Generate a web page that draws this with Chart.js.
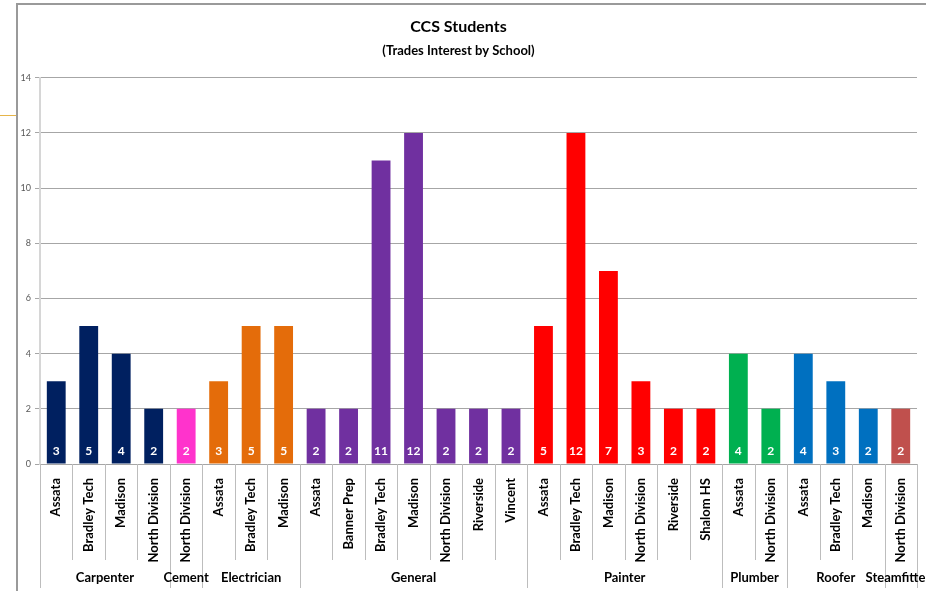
<!DOCTYPE html>
<html>
<head>
<meta charset="utf-8">
<title>CCS Students</title>
<script src="https://cdn.jsdelivr.net/npm/chart.js@4.4.0/dist/chart.umd.min.js"></script>
<style>
    html, body { margin: 0; padding: 0; background: #fff; }
    #wrap { position: relative; width: 926px; height: 591px; overflow: hidden; }
    #frame { position: absolute; left: 16px; top: 3px; right: -4px; bottom: -4px; border-top: 2px solid #9a9a9a; border-left: 2px solid #9a9a9a; pointer-events: none; }
    #mark { position: absolute; left: 0; top: 115px; width: 16px; border-top: 1px solid #e6b54a; }
    canvas { position: absolute; left: 0; top: 0; }
</style>
</head>
<body>
<div id="wrap">
    <canvas id="trades-chart" width="926" height="591"></canvas>
    <div id="frame"></div>
    <div id="mark"></div>
</div>
<script>
// one entry per bar
const trades = [
    "Carpenter", "Carpenter", "Carpenter", "Carpenter",
    "Cement",
    "Electrician", "Electrician", "Electrician",
    "General", "General", "General", "General", "General", "General", "General",
    "Painter", "Painter", "Painter", "Painter", "Painter", "Painter",
    "Plumber", "Plumber",
    "Roofer", "Roofer", "Roofer",
    "Steamfitters"
];
const schools = [
    "Assata", "Bradley Tech", "Madison", "North Division",
    "North Division",
    "Assata", "Bradley Tech", "Madison",
    "Assata", "Banner Prep", "Bradley Tech", "Madison", "North Division", "Riverside", "Vincent",
    "Assata", "Bradley Tech", "Madison", "North Division", "Riverside", "Shalom HS",
    "Assata", "North Division",
    "Assata", "Bradley Tech", "Madison",
    "North Division"
];
const students = [
    3, 5, 4, 2,
    2,
    3, 5, 5,
    2, 2, 11, 12, 2, 2, 2,
    5, 12, 7, 3, 2, 2,
    4, 2,
    4, 3, 2,
    2
];
const yTicks = [0, 2, 4, 6, 8, 10, 12, 14];

const tradeColors = {
    Carpenter: "#002060",
    Cement: "#ff33cc",
    Electrician: "#e46c0a",
    General: "#7030a0",
    Painter: "#ff0000",
    Plumber: "#00b050",
    Roofer: "#0070c0",
    Steamfitters: "#c0504d"
};

const FONT = "Lato, 'Open Sans', sans-serif";

// draws the category dividers, trade names under the schools and the values inside the bars
const tradeAxisPlugin = {
    id: "tradeAxis",
    afterDraw(chart) {
        const ctx = chart.ctx;
        const xScale = chart.scales.x;
        const area = chart.chartArea;
        const step = (area.right - area.left) / schools.length;
        const edge = i => xScale.getPixelForValue(i) - step / 2;

        ctx.save();
        ctx.strokeStyle = "#bdbdbd";
        ctx.lineWidth = 1;
        for (let i = 0; i <= schools.length; i++) {
            const isGroupEdge = i === 0 || i === schools.length || trades[i] !== trades[i - 1];
            const px = Math.round(edge(i)) + 0.5;
            ctx.beginPath();
            ctx.moveTo(px, area.bottom);
            ctx.lineTo(px, isGroupEdge ? area.bottom + 124 : area.bottom + 96);
            ctx.stroke();
        }

        // trade names
        ctx.fillStyle = "#000";
        ctx.font = "bold 13px " + FONT;
        ctx.textAlign = "center";
        ctx.textBaseline = "middle";
        let start = 0;
        for (let i = 1; i <= trades.length; i++) {
            if (i === trades.length || trades[i] !== trades[start]) {
                const mid = (edge(start) + edge(i)) / 2;
                ctx.fillText(trades[start], mid, area.bottom + 114);
                start = i;
            }
        }

        // values at the foot of each bar
        const meta = chart.getDatasetMeta(0);
        ctx.fillStyle = "#fff";
        ctx.font = "bold 12px " + FONT;
        meta.data.forEach((bar, i) => {
            ctx.fillText(String(students[i]), bar.x, area.bottom - 13);
        });
        ctx.restore();
    }
};

const ctx = document.getElementById("trades-chart").getContext("2d");
const chart = new Chart(ctx, {
    type: "bar",
    data: {
        labels: schools,
        datasets: [{
            label: "Students",
            data: students,
            backgroundColor: trades.map(t => tradeColors[t]),
            borderWidth: 0,
            barPercentage: 0.58,
            categoryPercentage: 1.0
        }]
    },
    options: {
        responsive: false,
        animation: false,
        layout: { padding: { left: 0, right: 9, top: 0, bottom: 0 } },
        plugins: {
            legend: { display: false },
            tooltip: { enabled: false },
            title: {
                display: true,
                text: "CCS Students",
                color: "#000",
                font: { family: FONT, size: 16, weight: "bold" },
                padding: { top: 17, bottom: 7 }
            },
            subtitle: {
                display: true,
                text: "(Trades Interest by School)",
                color: "#000",
                font: { family: FONT, size: 13, weight: "bold" },
                padding: { top: 0, bottom: 19 }
            }
        },
        scales: {
            x: {
                grid: { display: false },
                border: { color: "#a6a6a6", width: 1 },
                ticks: {
                    autoSkip: false,
                    minRotation: 90,
                    maxRotation: 90,
                    padding: 6,
                    color: "#000",
                    font: { family: FONT, size: 13, weight: "bold" }
                },
                afterFit(scale) { scale.height = 127; }
            },
            y: {
                min: 0,
                max: 14,
                afterBuildTicks(scale) { scale.ticks = yTicks.map(v => ({ value: v })); },
                grid: { color: "#a6a6a6", tickLength: 5 },
                border: { color: "#d6d6d6", width: 2 },
                ticks: {
                    padding: 4,
                    color: "#595959",
                    font: { family: FONT, size: 9 }
                },
                afterFit(scale) { scale.width = 40; }
            }
        }
    },
    plugins: [tradeAxisPlugin]
});
</script>
</body>
</html>
